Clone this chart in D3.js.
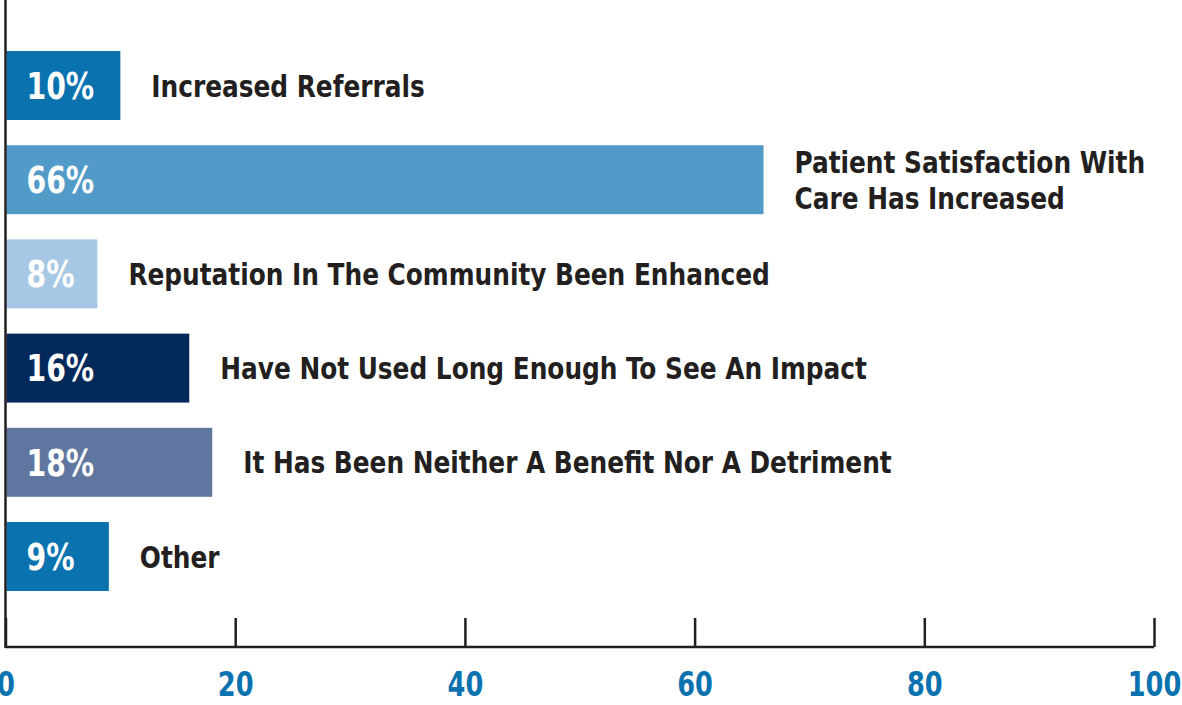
<!DOCTYPE html>
<html><head><meta charset="utf-8">
<script src="https://cdn.jsdelivr.net/npm/d3@7"></script>
<style>
html,body{margin:0;padding:0;background:#fff;}
svg{display:block;}
text{font-family:"DejaVu Sans Condensed","Liberation Sans Narrow",sans-serif;font-weight:bold;}
</style></head>
<body>
<svg id="chart" width="1182" height="705"></svg>
<script>
const categories = [
  ["Increased Referrals"],
  ["Patient Satisfaction With", "Care Has Increased"],
  ["Reputation In The Community Been Enhanced"],
  ["Have Not Used Long Enough To See An Impact"],
  ["It Has Been Neither A Benefit Nor A Detriment"],
  ["Other"]
];
const values = [10, 66, 8, 16, 18, 9];
const valueLabels = ["10%", "66%", "8%", "16%", "18%", "9%"];
const barColors = ["#0b72b0", "#529bc9", "#a6c8e5", "#03285a", "#5f77a0", "#0b72b0"];
const tickValues = [0, 20, 40, 60, 80, 100];

const svg = d3.select("#chart");
const x = d3.scaleLinear().domain([0, 100]).range([5.5, 1154]);
const y = d3.scaleBand().domain(d3.range(values.length))
  .range([38.4, 603.6]).paddingInner(0.268).paddingOuter(0.134);
const axisY = 647;

// bars
svg.selectAll("rect.bar").data(values).join("rect")
  .attr("class", "bar")
  .attr("x", x(0) + 1)
  .attr("y", (d, i) => y(i))
  .attr("width", d => x(d) - x(0) - 1)
  .attr("height", y.bandwidth())
  .attr("fill", (d, i) => barColors[i]);

// value labels
svg.selectAll("text.val").data(values).join("text")
  .attr("class", "val")
  .attr("transform", (d, i) => `translate(${x(0) + 21},${y(i) + y.bandwidth() / 2}) scale(0.85,1)`)
  .attr("dy", "0.36em")
  .attr("fill", "#fff")
  .attr("font-size", 37)
  .text((d, i) => valueLabels[i]);

// category labels
const cat = svg.selectAll("text.cat").data(values).join("text")
  .attr("class", "cat")
  .attr("transform", (d, i) => `translate(${x(d) + 31},${y(i) + y.bandwidth() / 2}) scale(0.89,1)`)
  .attr("fill", "#231f20")
  .attr("font-size", 31);
cat.each(function(d, i) {
  const lines = categories[i];
  const n = lines.length;
  d3.select(this).selectAll("tspan").data(lines).join("tspan")
    .attr("x", 0)
    .attr("dy", (l, j) => j === 0 ? ((0.36 - (n - 1) * 0.58) + "em") : "1.16em")
    .text(l => l);
});

// axes
const xAxis = d3.axisBottom(x).tickValues(tickValues).tickSize(-29).tickPadding(0).tickFormat(d3.format("d"));
const gx = svg.append("g").attr("transform", `translate(0,${axisY})`).call(xAxis);
gx.select(".domain").remove();
gx.selectAll(".tick line").attr("stroke", "#231f20").attr("stroke-width", 2.5);
gx.selectAll(".tick text").attr("fill", "#0b72b0").attr("font-size", 34)
  .attr("font-family", "\"DejaVu Sans Condensed\",sans-serif")
  .attr("font-weight", "bold").attr("y", 0).attr("dy", 0)
  .attr("transform", "translate(0,49) scale(0.84,1)");
svg.append("line").attr("x1", x(0)).attr("x2", x(100)).attr("y1", axisY).attr("y2", axisY)
  .attr("stroke", "#231f20").attr("stroke-width", 2.5);
svg.append("line").attr("x1", x(0)).attr("x2", x(0)).attr("y1", 0).attr("y2", axisY + 1)
  .attr("stroke", "#231f20").attr("stroke-width", 2.5);
</script>
</body></html>
